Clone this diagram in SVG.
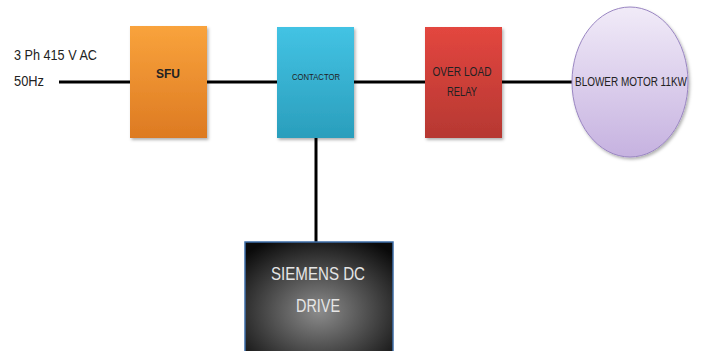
<svg xmlns="http://www.w3.org/2000/svg" width="703" height="351" viewBox="0 0 703 351">
  <defs>
    <linearGradient id="gOrange" x1="0" y1="0" x2="0" y2="1">
      <stop offset="0" stop-color="#F9A33C"/>
      <stop offset="1" stop-color="#DD7A22"/>
    </linearGradient>
    <linearGradient id="gCyan" x1="0" y1="0" x2="0" y2="1">
      <stop offset="0" stop-color="#43C3E4"/>
      <stop offset="1" stop-color="#2A9EBC"/>
    </linearGradient>
    <linearGradient id="gRed" x1="0" y1="0" x2="0" y2="1">
      <stop offset="0" stop-color="#E3463F"/>
      <stop offset="1" stop-color="#B63832"/>
    </linearGradient>
    <linearGradient id="gLilac" x1="0" y1="0" x2="0" y2="1">
      <stop offset="0" stop-color="#F1EBF8"/>
      <stop offset="1" stop-color="#C6B2E0"/>
    </linearGradient>
    <radialGradient id="gDark" cx="0.5" cy="0.6" r="0.7">
      <stop offset="0" stop-color="#8C8C8C"/>
      <stop offset="1" stop-color="#0A0A0A"/>
    </radialGradient>
    <filter id="shade" x="-10%" y="-10%" width="125%" height="125%">
      <feDropShadow dx="1.5" dy="2" stdDeviation="1.5" flood-color="#000" flood-opacity="0.3"/>
    </filter>
  </defs>
  <style>
    .wire { stroke: #000; stroke-width: 3; fill: none; }
    .lbl { font-family: "Liberation Sans", Arial, sans-serif; fill: #222; }
    .light { fill: #E6E6E6; }
  </style>

  <rect width="703" height="351" fill="#fff"/>

  <!-- wiring between the blocks -->
  <g id="connectors">
    <line class="wire" x1="59" y1="82" x2="130" y2="82"/>
    <line class="wire" x1="207" y1="82" x2="277" y2="82"/>
    <line class="wire" x1="354" y1="82" x2="425" y2="82"/>
    <line class="wire" x1="502" y1="82" x2="572" y2="82"/>
    <line class="wire" x1="316" y1="138" x2="316" y2="242" stroke-width="2.5"/>
  </g>

  <!-- supply label -->
  <g id="supply">
    <text class="lbl" x="14" y="60" font-size="14" textLength="83" lengthAdjust="spacingAndGlyphs">3 Ph 415 V AC</text>
    <text class="lbl" x="14" y="86" font-size="14" textLength="30" lengthAdjust="spacingAndGlyphs">50Hz</text>
  </g>

  <g id="sfu">
    <rect x="130" y="26" width="77" height="112" fill="url(#gOrange)" filter="url(#shade)"/>
    <text class="lbl" x="168" y="78" font-size="13" font-weight="bold" text-anchor="middle" textLength="24" lengthAdjust="spacingAndGlyphs">SFU</text>
  </g>

  <g id="contactor">
    <rect x="277" y="27" width="77" height="111" fill="url(#gCyan)" filter="url(#shade)"/>
    <text class="lbl" x="316" y="80" font-size="9" text-anchor="middle" textLength="48" lengthAdjust="spacingAndGlyphs">CONTACTOR</text>
  </g>

  <g id="relay">
    <rect x="425" y="27" width="77" height="111" fill="url(#gRed)" filter="url(#shade)"/>
    <text class="lbl" x="462" y="76" font-size="13" text-anchor="middle" textLength="59" lengthAdjust="spacingAndGlyphs">OVER LOAD</text>
    <text class="lbl" x="462" y="96" font-size="13" text-anchor="middle" textLength="30" lengthAdjust="spacingAndGlyphs">RELAY</text>
  </g>

  <g id="motor">
    <ellipse cx="630" cy="82" rx="58" ry="75" fill="url(#gLilac)" stroke="#9A86C2" stroke-width="1" filter="url(#shade)"/>
    <text class="lbl" x="575" y="86" font-size="12" textLength="112" lengthAdjust="spacingAndGlyphs">BLOWER MOTOR 11KW</text>
  </g>

  <g id="drive">
    <rect x="245" y="242" width="148" height="115" fill="url(#gDark)" stroke="#3E6EA8" stroke-width="1.5"/>
    <text class="lbl light" x="318" y="280" font-size="18" text-anchor="middle" textLength="94" lengthAdjust="spacingAndGlyphs">SIEMENS DC</text>
    <text class="lbl light" x="318" y="312" font-size="18" text-anchor="middle" textLength="44" lengthAdjust="spacingAndGlyphs">DRIVE</text>
  </g>
</svg>
